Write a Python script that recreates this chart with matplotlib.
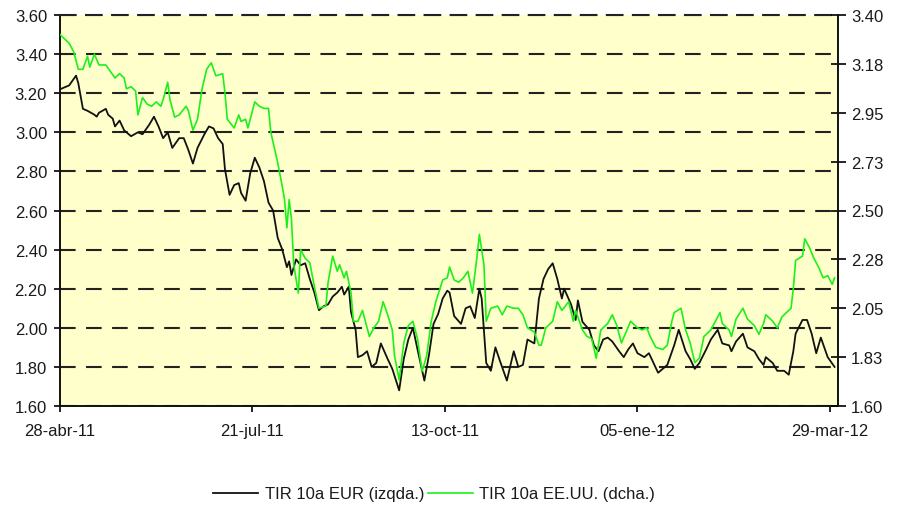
import numpy as np
import matplotlib
matplotlib.use("Agg")
import matplotlib.pyplot as plt
import matplotlib.dates as mdates

plt.rcParams['font.family'] = ['Liberation Sans', 'DejaVu Sans']

# first observation; every series is stored as days since this date
start = np.datetime64('2011-04-28')

# 10-year EUR yield (left axis)
eur_days = [0, 4, 7, 8, 10, 12, 15, 16, 17, 20,
            21, 23, 24, 26, 28, 31, 34, 36, 39, 41,
            43, 45, 47, 49, 52, 54, 56, 58, 60, 63,
            65, 67, 69, 71, 72, 74, 76, 78, 79, 81,
            83, 85, 87, 89, 91, 93, 95, 97, 99, 100,
            101, 103, 105, 107, 109, 111, 113, 115, 117, 119,
            121, 123, 124, 126, 127, 129, 130, 132, 134, 136,
            138, 140, 143, 145, 148, 150, 152, 154, 156, 159,
            161, 163, 165, 167, 169, 170, 172, 175, 177, 179,
            181, 183, 184, 186, 188, 190, 192, 195, 198, 200,
            202, 204, 207, 209, 211, 213, 215, 217, 219, 220,
            223, 225, 226, 228, 231, 233, 235, 237, 239, 241,
            244, 246, 248, 250, 252, 255, 257, 259, 261, 263,
            265, 268, 270, 273, 275, 277, 279, 282, 284, 287,
            289, 292, 293, 295, 298, 300, 303, 305, 307, 308,
            311, 313, 316, 318, 320, 321, 324, 326, 328, 330,
            332, 335, 338]
eur_vals = [3.22, 3.24, 3.29, 3.25, 3.12, 3.11, 3.09, 3.08, 3.10, 3.12,
            3.09, 3.07, 3.03, 3.06, 3.01, 2.98, 3.00, 2.99, 3.04, 3.08,
            3.03, 2.97, 3.00, 2.92, 2.97, 2.97, 2.91, 2.84, 2.92, 2.99,
            3.03, 3.02, 2.97, 2.94, 2.81, 2.68, 2.73, 2.74, 2.69, 2.65,
            2.79, 2.87, 2.82, 2.75, 2.64, 2.60, 2.46, 2.40, 2.31, 2.34,
            2.27, 2.35, 2.32, 2.33, 2.25, 2.18, 2.09, 2.11, 2.12, 2.16,
            2.18, 2.21, 2.17, 2.21, 2.08, 1.99, 1.85, 1.86, 1.88, 1.80,
            1.82, 1.92, 1.84, 1.79, 1.68, 1.84, 1.94, 2.00, 1.89, 1.73,
            1.86, 2.02, 2.07, 2.15, 2.19, 2.18, 2.06, 2.02, 2.10, 2.11,
            2.05, 2.20, 2.15, 1.82, 1.78, 1.90, 1.83, 1.73, 1.88, 1.80,
            1.81, 1.94, 1.92, 2.15, 2.25, 2.30, 2.33, 2.25, 2.15, 2.20,
            2.12, 2.04, 2.14, 2.03, 1.99, 1.91, 1.88, 1.94, 1.95, 1.93,
            1.88, 1.85, 1.89, 1.92, 1.87, 1.85, 1.87, 1.82, 1.77, 1.79,
            1.81, 1.91, 1.99, 1.88, 1.84, 1.79, 1.82, 1.89, 1.94, 1.99,
            1.92, 1.91, 1.88, 1.93, 1.97, 1.90, 1.88, 1.84, 1.81, 1.85,
            1.82, 1.78, 1.78, 1.76, 1.88, 1.97, 2.04, 2.04, 1.97, 1.87,
            1.95, 1.85, 1.80]

# 10-year US yield (right axis)
usa_days = [0, 4, 6, 8, 10, 12, 13, 15, 17, 20,
            22, 24, 26, 28, 29, 31, 33, 34, 36, 38,
            40, 42, 44, 45, 47, 48, 50, 52, 55, 56,
            58, 60, 62, 64, 66, 68, 71, 72, 73, 76,
            78, 79, 81, 82, 85, 87, 89, 91, 92, 95,
            97, 98, 99, 100, 101, 102, 104, 105, 107, 109,
            111, 113, 116, 117, 119, 121, 122, 124, 125, 127,
            128, 130, 132, 135, 137, 139, 141, 143, 145, 146,
            148, 150, 152, 154, 156, 158, 160, 162, 164, 167,
            169, 170, 172, 174, 176, 178, 180, 182, 183, 185,
            186, 188, 191, 193, 195, 198, 200, 202, 204, 207,
            209, 210, 212, 215, 217, 219, 222, 224, 225, 228,
            230, 232, 234, 236, 239, 241, 243, 245, 247, 249,
            252, 254, 256, 258, 260, 263, 265, 267, 268, 271,
            273, 275, 277, 279, 281, 284, 286, 288, 289, 292,
            293, 295, 298, 300, 303, 305, 307, 308, 311, 313,
            315, 317, 319, 320, 321, 324, 325, 327, 329, 331,
            333, 335, 337, 338]
usa_vals = [3.31, 3.27, 3.23, 3.15, 3.15, 3.21, 3.16, 3.22, 3.17, 3.17,
            3.14, 3.11, 3.13, 3.11, 3.06, 3.07, 3.05, 2.94, 3.02, 2.99,
            2.98, 3.00, 2.98, 3.01, 3.09, 3.01, 2.93, 2.94, 2.98, 2.96,
            2.87, 2.92, 3.06, 3.15, 3.18, 3.12, 3.13, 3.04, 2.92, 2.88,
            2.94, 2.91, 2.92, 2.88, 3.00, 2.98, 2.97, 2.97, 2.86, 2.72,
            2.61, 2.55, 2.42, 2.55, 2.46, 2.25, 2.12, 2.32, 2.28, 2.26,
            2.15, 2.05, 2.06, 2.17, 2.29, 2.22, 2.25, 2.19, 2.22, 2.12,
            1.99, 1.99, 2.04, 1.92, 1.96, 1.99, 2.08, 2.02, 1.95, 1.83,
            1.72, 1.89, 1.97, 1.99, 1.91, 1.76, 1.83, 1.99, 2.08, 2.18,
            2.19, 2.24, 2.18, 2.17, 2.19, 2.22, 2.12, 2.29, 2.39, 2.25,
            1.99, 2.05, 2.06, 2.02, 2.06, 2.05, 2.05, 2.02, 1.96, 1.94,
            1.88, 1.88, 1.96, 1.99, 2.08, 2.04, 2.08, 1.99, 2.04, 1.95,
            1.92, 1.91, 1.82, 1.95, 1.98, 2.02, 1.97, 1.89, 1.94, 1.99,
            1.96, 1.95, 1.96, 1.91, 1.87, 1.86, 1.88, 1.99, 2.03, 2.05,
            1.95, 1.89, 1.80, 1.82, 1.92, 1.95, 1.99, 2.03, 1.98, 1.95,
            1.92, 2.00, 2.05, 2.00, 1.97, 1.93, 1.98, 2.02, 1.99, 1.96,
            2.01, 2.03, 2.05, 2.14, 2.27, 2.29, 2.37, 2.33, 2.28, 2.24,
            2.19, 2.20, 2.16, 2.19]

tick_dates = ['2011-04-28', '2011-07-21', '2011-10-13', '2012-01-05', '2012-03-29']
tick_labels = ['28-abr-11', '21-jul-11', '13-oct-11', '05-ene-12', '29-mar-12']
right_labels = ['1.60', '1.83', '2.05', '2.28', '2.50', '2.73', '2.95', '3.18', '3.40']
series_names = ['TIR 10a EUR (izqda.)', 'TIR 10a EE.UU. (dcha.)']

dash = (0, (7.5, 5))
txt = '#1a1a1a'

fig = plt.figure(figsize=(8.99, 5.06), dpi=100)
ax = fig.add_axes([60 / 899, 1 - 407 / 506, 778 / 899, 391 / 506])
ax.set_facecolor('#FFFFCC')

eur_x = start + np.array(eur_days).astype('timedelta64[D]')
usa_x = start + np.array(usa_days).astype('timedelta64[D]')

l1, = ax.plot(eur_x, eur_vals, color='#111111', lw=1.3)
ax.set_ylim(1.6, 3.6)
left_ticks = np.arange(1.6, 3.61, 0.2)
ax.set_yticks(left_ticks)
ax.set_yticklabels([f'{v:.2f}' for v in left_ticks])
ax.grid(axis='y', color='#222222', lw=1.5, linestyle=dash)

x0 = mdates.date2num(start)
ax.set_xlim(x0, x0 + 339.5)
ax.set_xticks(np.array(tick_dates, dtype='datetime64[D]'))
ax.set_xticklabels(tick_labels)

ax2 = ax.twinx()
l2, = ax2.plot(usa_x, usa_vals, color='#1cf01c', lw=1.2)
ax2.set_ylim(1.6, 3.4)
ax2.set_yticks(np.linspace(1.6, 3.4, len(right_labels)))
ax2.set_yticklabels(right_labels)

for s in ('left', 'bottom'):
    ax.spines[s].set_linewidth(1.4)
    ax.spines[s].set_color('#111111')
ax.spines['right'].set_visible(False)
ax.spines['top'].set_linestyle(dash)
ax.spines['top'].set_linewidth(1.5)
ax.spines['top'].set_color('#222222')
for s in ('left', 'bottom', 'top'):
    ax2.spines[s].set_visible(False)
ax2.spines['right'].set_linewidth(1.4)
ax2.spines['right'].set_color('#111111')

ax.tick_params(axis='y', direction='out', length=4.3, width=1.2, pad=5,
               labelsize=12, labelcolor=txt)
ax.tick_params(axis='x', direction='out', length=4.5, width=1.2, pad=7.5,
               labelsize=12, labelcolor=txt)
ax2.tick_params(axis='y', direction='inout', length=10.8, width=1.2, pad=4,
                labelsize=12, labelcolor=txt)

fig.legend([l1, l2], series_names, loc='center', bbox_to_anchor=(0.483, 0.022),
           ncol=2, frameon=False, fontsize=12, handlelength=2.7,
           handletextpad=0.4, columnspacing=0.2, labelcolor=txt)

fig.savefig('out.png', dpi=100, facecolor='white')
